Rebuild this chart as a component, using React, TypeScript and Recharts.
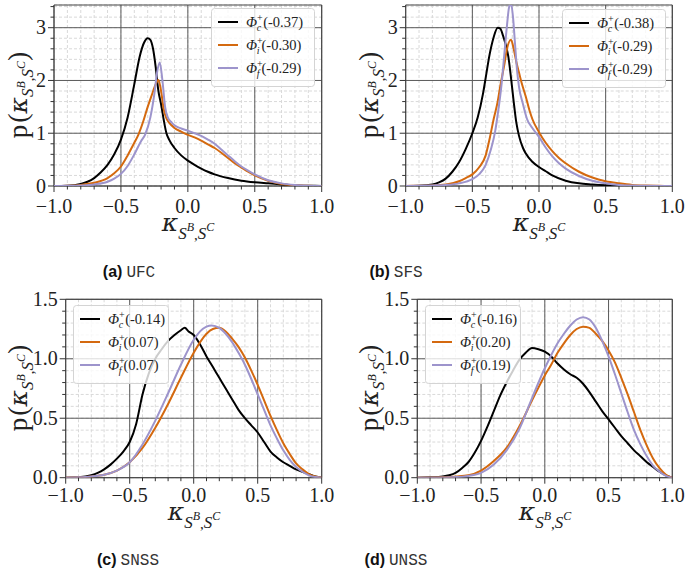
import React from 'react'
import { LineChart, Line, XAxis, YAxis, CartesianGrid, ReferenceArea, Legend } from 'recharts'

// ticks
const xMajor = [-1, -0.5, 0, 0.5, 1]
const xMinor = [-1, -0.9, -0.8, -0.7, -0.6, -0.5, -0.4, -0.3, -0.2, -0.1, 0, 0.1, 0.2, 0.3, 0.4, 0.5, 0.6, 0.7, 0.8, 0.9, 1]
const yMajorTop = [0, 1, 2, 3]
const yMinorTop = [0, 0.2, 0.4, 0.6, 0.8, 1, 1.2, 1.4, 1.6, 1.8, 2, 2.2, 2.4, 2.6, 2.8, 3, 3.2, 3.4]
const yMajorBottom = [0, 0.5, 1, 1.5]
const yMinorBottom = [0, 0.1, 0.2, 0.3, 0.4, 0.5, 0.6, 0.7, 0.8, 0.9, 1, 1.1, 1.2, 1.3, 1.4, 1.5]

const BLACK = '#000000'
const ORANGE = '#d4690f'
const PURPLE = '#9d94cc'

// (a) UFC
const ufcC: [number, number][] = [[-1, 0], [-0.9, 0.005], [-0.8, 0.04], [-0.75, 0.08], [-0.7, 0.15], [-0.65, 0.26], [-0.6, 0.4], [-0.55, 0.6], [-0.5, 0.88], [-0.45, 1.3], [-0.4, 1.93], [-0.36, 2.45], [-0.33, 2.7], [-0.3, 2.8], [-0.28, 2.77], [-0.26, 2.6], [-0.24, 2.25], [-0.22, 1.8], [-0.2, 1.55], [-0.18, 1.25], [-0.16, 1.0], [-0.14, 0.88], [-0.1, 0.72], [-0.05, 0.58], [0, 0.48], [0.05, 0.4], [0.1, 0.33], [0.15, 0.27], [0.2, 0.22], [0.3, 0.15], [0.4, 0.1], [0.5, 0.07], [0.6, 0.05], [0.7, 0.03], [0.8, 0.01], [0.9, 0.005], [1, 0]]
const ufcI: [number, number][] = [[-1, 0], [-0.9, 0.005], [-0.8, 0.02], [-0.7, 0.06], [-0.6, 0.15], [-0.55, 0.24], [-0.5, 0.37], [-0.45, 0.58], [-0.4, 0.82], [-0.37, 0.97], [-0.33, 1.25], [-0.3, 1.5], [-0.27, 1.72], [-0.24, 1.93], [-0.22, 2.01], [-0.2, 1.8], [-0.18, 1.45], [-0.16, 1.28], [-0.14, 1.2], [-0.1, 1.1], [-0.05, 1.03], [0, 0.97], [0.05, 0.92], [0.1, 0.86], [0.15, 0.79], [0.2, 0.72], [0.25, 0.63], [0.3, 0.53], [0.35, 0.43], [0.4, 0.35], [0.45, 0.27], [0.5, 0.2], [0.6, 0.1], [0.7, 0.04], [0.8, 0.015], [0.9, 0.005], [1, 0]]
const ufcF: [number, number][] = [[-1, 0], [-0.9, 0.003], [-0.8, 0.01], [-0.7, 0.03], [-0.6, 0.08], [-0.55, 0.14], [-0.5, 0.23], [-0.45, 0.38], [-0.4, 0.6], [-0.35, 0.85], [-0.32, 0.97], [-0.28, 1.3], [-0.25, 1.75], [-0.23, 2.15], [-0.21, 2.34], [-0.19, 2.0], [-0.17, 1.5], [-0.15, 1.3], [-0.12, 1.2], [-0.1, 1.15], [-0.05, 1.09], [0, 1.05], [0.05, 1.0], [0.1, 0.95], [0.15, 0.88], [0.2, 0.8], [0.25, 0.69], [0.3, 0.58], [0.35, 0.47], [0.4, 0.37], [0.45, 0.29], [0.5, 0.22], [0.6, 0.11], [0.7, 0.05], [0.8, 0.02], [0.9, 0.005], [1, 0]]

// (b) SFS
const sfsC: [number, number][] = [[-1, 0], [-0.9, 0.005], [-0.8, 0.03], [-0.75, 0.07], [-0.7, 0.14], [-0.65, 0.27], [-0.6, 0.45], [-0.55, 0.7], [-0.5, 1.0], [-0.46, 1.3], [-0.42, 1.75], [-0.4, 2.05], [-0.37, 2.5], [-0.34, 2.82], [-0.31, 3.0], [-0.29, 2.98], [-0.27, 2.85], [-0.25, 2.68], [-0.23, 2.45], [-0.21, 2.05], [-0.19, 1.6], [-0.17, 1.2], [-0.15, 0.95], [-0.12, 0.72], [-0.1, 0.62], [-0.05, 0.46], [0, 0.36], [0.05, 0.28], [0.1, 0.2], [0.2, 0.1], [0.3, 0.05], [0.4, 0.03], [0.5, 0.015], [0.6, 0.005], [0.7, 0], [1, 0]]
const sfsI: [number, number][] = [[-1, 0], [-0.9, 0.005], [-0.8, 0.01], [-0.7, 0.03], [-0.6, 0.09], [-0.55, 0.15], [-0.5, 0.22], [-0.45, 0.35], [-0.4, 0.58], [-0.37, 0.9], [-0.34, 1.27], [-0.31, 1.6], [-0.29, 1.9], [-0.26, 2.3], [-0.24, 2.6], [-0.21, 2.77], [-0.19, 2.6], [-0.17, 2.35], [-0.15, 2.15], [-0.13, 1.95], [-0.1, 1.7], [-0.07, 1.42], [-0.05, 1.27], [0, 1.02], [0.05, 0.82], [0.1, 0.66], [0.15, 0.53], [0.2, 0.43], [0.3, 0.27], [0.4, 0.16], [0.5, 0.09], [0.6, 0.05], [0.7, 0.02], [0.8, 0.008], [0.9, 0.003], [1, 0]]
const sfsF: [number, number][] = [[-1, 0], [-0.9, 0.003], [-0.8, 0.01], [-0.7, 0.02], [-0.6, 0.05], [-0.5, 0.13], [-0.45, 0.22], [-0.4, 0.4], [-0.36, 0.7], [-0.33, 1.02], [-0.31, 1.35], [-0.28, 1.95], [-0.26, 2.5], [-0.24, 3.05], [-0.225, 3.38], [-0.21, 3.46], [-0.195, 3.2], [-0.18, 2.7], [-0.165, 2.2], [-0.15, 1.88], [-0.12, 1.55], [-0.09, 1.27], [-0.05, 1.1], [0, 0.93], [0.05, 0.73], [0.1, 0.56], [0.15, 0.43], [0.2, 0.33], [0.3, 0.19], [0.4, 0.1], [0.5, 0.05], [0.6, 0.02], [0.7, 0.008], [0.8, 0.003], [1, 0]]

// (c) SNSS
const snssC: [number, number][] = [[-1, 0], [-0.9, 0.003], [-0.8, 0.02], [-0.75, 0.04], [-0.7, 0.07], [-0.65, 0.11], [-0.6, 0.16], [-0.55, 0.22], [-0.5, 0.3], [-0.45, 0.45], [-0.4, 0.7], [-0.35, 0.88], [-0.3, 1.0], [-0.25, 1.08], [-0.2, 1.15], [-0.15, 1.2], [-0.1, 1.24], [-0.07, 1.26], [-0.04, 1.23], [0, 1.2], [0.05, 1.12], [0.1, 1.02], [0.15, 0.93], [0.2, 0.84], [0.25, 0.75], [0.3, 0.66], [0.35, 0.57], [0.4, 0.5], [0.45, 0.44], [0.5, 0.38], [0.55, 0.3], [0.6, 0.22], [0.65, 0.17], [0.7, 0.13], [0.75, 0.1], [0.8, 0.07], [0.85, 0.05], [0.9, 0.03], [0.95, 0.01], [1, 0]]
const snssI: [number, number][] = [[-1, 0], [-0.9, 0.003], [-0.8, 0.01], [-0.7, 0.025], [-0.6, 0.06], [-0.5, 0.13], [-0.4, 0.25], [-0.3, 0.42], [-0.2, 0.62], [-0.1, 0.84], [0, 1.05], [0.05, 1.14], [0.1, 1.21], [0.15, 1.25], [0.2, 1.26], [0.25, 1.23], [0.3, 1.17], [0.35, 1.1], [0.4, 1.01], [0.45, 0.9], [0.5, 0.78], [0.55, 0.65], [0.6, 0.52], [0.65, 0.4], [0.7, 0.29], [0.75, 0.2], [0.8, 0.12], [0.85, 0.07], [0.9, 0.03], [0.95, 0.01], [1, 0]]
const snssF: [number, number][] = [[-1, 0], [-0.9, 0.003], [-0.8, 0.01], [-0.7, 0.025], [-0.6, 0.06], [-0.5, 0.13], [-0.4, 0.28], [-0.3, 0.48], [-0.2, 0.71], [-0.1, 0.95], [0, 1.16], [0.05, 1.23], [0.1, 1.27], [0.14, 1.28], [0.2, 1.26], [0.25, 1.21], [0.3, 1.14], [0.35, 1.05], [0.4, 0.95], [0.45, 0.83], [0.5, 0.7], [0.55, 0.57], [0.6, 0.44], [0.65, 0.33], [0.7, 0.23], [0.75, 0.15], [0.8, 0.09], [0.85, 0.05], [0.9, 0.02], [0.95, 0.005], [1, 0]]

// (d) UNSS
const unssC: [number, number][] = [[-1, 0], [-0.9, 0.003], [-0.8, 0.01], [-0.75, 0.02], [-0.7, 0.04], [-0.65, 0.08], [-0.6, 0.13], [-0.55, 0.21], [-0.5, 0.31], [-0.45, 0.43], [-0.4, 0.56], [-0.35, 0.69], [-0.3, 0.8], [-0.25, 0.9], [-0.2, 0.99], [-0.15, 1.05], [-0.1, 1.09], [-0.05, 1.08], [0, 1.06], [0.05, 1.02], [0.1, 0.96], [0.15, 0.91], [0.2, 0.87], [0.25, 0.84], [0.3, 0.79], [0.35, 0.72], [0.4, 0.64], [0.45, 0.56], [0.5, 0.49], [0.55, 0.42], [0.6, 0.35], [0.65, 0.29], [0.7, 0.23], [0.75, 0.18], [0.8, 0.13], [0.85, 0.09], [0.9, 0.05], [0.95, 0.02], [1, 0]]
const unssI: [number, number][] = [[-1, 0], [-0.8, 0.003], [-0.7, 0.01], [-0.6, 0.02], [-0.5, 0.06], [-0.4, 0.14], [-0.3, 0.25], [-0.2, 0.43], [-0.1, 0.65], [0, 0.86], [0.05, 0.95], [0.1, 1.05], [0.15, 1.13], [0.2, 1.2], [0.25, 1.25], [0.3, 1.27], [0.35, 1.26], [0.4, 1.21], [0.45, 1.15], [0.5, 1.07], [0.55, 0.97], [0.6, 0.84], [0.65, 0.7], [0.7, 0.55], [0.75, 0.4], [0.8, 0.27], [0.85, 0.16], [0.9, 0.08], [0.95, 0.025], [1, 0]]
const unssF: [number, number][] = [[-1, 0], [-0.8, 0.002], [-0.7, 0.005], [-0.6, 0.015], [-0.5, 0.04], [-0.4, 0.11], [-0.3, 0.23], [-0.2, 0.41], [-0.1, 0.67], [0, 0.92], [0.05, 1.03], [0.1, 1.13], [0.15, 1.21], [0.2, 1.28], [0.25, 1.33], [0.3, 1.35], [0.35, 1.33], [0.4, 1.26], [0.45, 1.15], [0.5, 1.02], [0.55, 0.87], [0.6, 0.71], [0.65, 0.55], [0.7, 0.4], [0.75, 0.28], [0.8, 0.18], [0.85, 0.1], [0.9, 0.05], [0.95, 0.015], [1, 0]]

// legend labels: subscript + value in brackets
const legendSubs = ['c', 'i', 'f']
const ufcLabels = ['-0.37', '-0.30', '-0.29']
const sfsLabels = ['-0.38', '-0.29', '-0.29']
const snssLabels = ['-0.14', '0.07', '0.07']
const unssLabels = ['-0.16', '0.20', '0.19']

const SERIF = '"Liberation Serif", serif'
const MATH = '"DejaVu Serif", serif'
const toPts = (arr: [number, number][]) => arr.map(([x, y]) => ({ x, y }))
const fmtX = (v: number) => (v < 0 ? '\u2212' : '') + Math.abs(v).toFixed(1)

const XTick = (props: any) => {
  const { x, y, payload, labelDy } = props
  const major = xMajor.includes(payload.value)
  return (
    <g>
      <line x1={x} x2={x} y1={y} y2={y + (major ? 6 : 3.5)} stroke="#333" strokeWidth={1} />
      {major && (
        <text x={x} y={y + labelDy} textAnchor="middle" fontFamily={SERIF} fontSize={20} fill="#222">
          {fmtX(payload.value)}
        </text>
      )}
    </g>
  )
}

const YTick = (props: any) => {
  const { x, y, payload, majors, digits } = props
  const major = majors.includes(payload.value)
  return (
    <g>
      <line x1={x} x2={x - (major ? 6 : 3.5)} y1={y} y2={y} stroke="#333" strokeWidth={1} />
      {major && (
        <text x={x - 8} y={y + 6.5} textAnchor="end" fontFamily={SERIF} fontSize={20} fill="#222">
          {payload.value.toFixed(digits)}
        </text>
      )}
    </g>
  )
}

const LegendBox = ({ w, labels }: { w: number; labels: string[] }) => {
  const colors = [BLACK, ORANGE, PURPLE]
  return (
    <svg width={w} height={79} style={{ display: 'block' }}>
      <rect x={0.5} y={0.5} width={w - 1} height={78} rx={3} fill="rgba(255,255,255,0.8)" stroke="#d4d4d4" />
      {labels.map((lab, i) => {
        const cy = 14 + i * 23
        return (
          <g key={i}>
            <line x1={7} x2={27} y1={cy} y2={cy} stroke={colors[i]} strokeWidth={2} />
            <text x={35} y={cy + 5} fontFamily={SERIF} fontSize={14.5} fill="#222">
              <tspan fontStyle="italic">Φ</tspan>
              <tspan dy={-6} fontSize={10}>+</tspan>
              <tspan dx={-6} dy={10} fontSize={10} fontStyle="italic">{legendSubs[i]}</tspan>
              <tspan dx={2} dy={-4}>({lab})</tspan>
            </text>
          </g>
        )
      })}
    </svg>
  )
}

type PanelProps = {
  left: number
  top: number
  width: number
  height: number
  margin: { top: number; right: number; bottom: number; left: number }
  yMax: number
  yMajor: number[]
  yMinor: number[]
  digits: number
  labelDy: number
  series: [number, number][][]
  labels: string[]
  legendLeft: number
  legendTop: number
  legendW: number
}

const Panel = (p: PanelProps) => {
  const colors = [BLACK, ORANGE, PURPLE]
  return (
    <div style={{ position: 'absolute', left: p.left, top: p.top }}>
      <LineChart width={p.width} height={p.height} margin={p.margin}>
        <CartesianGrid stroke="#d9d9d9" strokeDasharray="3 2" />
        <CartesianGrid stroke="#5a5a5a" verticalValues={xMajor} horizontalValues={p.yMajor} />
        <XAxis
          dataKey="x"
          type="number"
          domain={[-1, 1]}
          ticks={xMinor}
          interval={0}
          height={1}
          tickSize={0}
          tickMargin={0}
          axisLine={false}
          tickLine={false}
          allowDataOverflow
          tick={<XTick labelDy={p.labelDy} />}
        />
        <YAxis
          type="number"
          domain={[0, p.yMax]}
          ticks={p.yMinor}
          interval={0}
          width={1}
          tickSize={0}
          tickMargin={0}
          axisLine={false}
          tickLine={false}
          allowDataOverflow
          tick={<YTick majors={p.yMajor} digits={p.digits} />}
        />
        {p.series.map((s, i) => (
          <Line
            key={i}
            data={toPts(s)}
            dataKey="y"
            type="monotone"
            stroke={colors[i]}
            strokeWidth={2}
            dot={false}
            isAnimationActive={false}
          />
        ))}
        <ReferenceArea x1={-1} x2={1} y1={0} y2={p.yMax} fill="none" stroke="#444" strokeWidth={1} />
        <Legend
          layout="vertical"
          align="center"
          verticalAlign="middle"
          wrapperStyle={{ left: p.legendLeft, top: p.legendTop, width: p.legendW, height: 79 }}
          content={() => <LegendBox w={p.legendW} labels={p.labels} />}
        />
      </LineChart>
    </div>
  )
}

const XTitle = ({ cx, y }: { cx: number; y: number }) => (
  <text x={cx} y={y} textAnchor="middle" fontFamily={SERIF} fill="#222">
    <tspan fontSize={25} fontStyle="italic" fontFamily={MATH}>κ</tspan>
    <tspan fontSize={17} fontStyle="italic" dy={8}>S</tspan>
    <tspan fontSize={12} fontStyle="italic" dy={-8}>B</tspan>
    <tspan fontSize={15} dy={9}>,</tspan>
    <tspan fontSize={17} fontStyle="italic" dy={-1}>S</tspan>
    <tspan fontSize={12} fontStyle="italic" dy={-8}>C</tspan>
  </text>
)

const YTitle = ({ x, cy }: { x: number; cy: number }) => (
  <text transform={`translate(${x},${cy}) rotate(-90)`} textAnchor="middle" fontFamily={SERIF} fill="#222">
    <tspan fontSize={27}>p</tspan>
    <tspan fontSize={28} dx={2}>(</tspan>
    <tspan fontSize={25} fontStyle="italic" fontFamily={MATH}>κ</tspan>
    <tspan fontSize={17} fontStyle="italic" dy={6}>S</tspan>
    <tspan fontSize={12} fontStyle="italic" dy={-8}>B</tspan>
    <tspan fontSize={15} dy={9}>,</tspan>
    <tspan fontSize={17} fontStyle="italic" dy={-1}>S</tspan>
    <tspan fontSize={12} fontStyle="italic" dy={-8}>C</tspan>
    <tspan fontSize={28} dy={2}>)</tspan>
  </text>
)

const Caption = ({ cx, y, tag, name }: { cx: number; y: number; tag: string; name: string }) => (
  <text x={cx} y={y} textAnchor="middle" fill="#111">
    <tspan fontFamily='"Liberation Sans", Arial, sans-serif' fontWeight="bold" fontSize={16}>({tag})</tspan>
    <tspan fontFamily='"Liberation Mono", monospace' fontSize={16} fill="#333" dx={4}>{name}</tspan>
  </text>
)

export default function App() {
  const topMargin = { top: 5, bottom: 63 }
  const botMargin = { top: 14.3, bottom: 56.3 }
  return (
    <div style={{ position: 'absolute', left: 0, top: 0, width: 685, height: 572, background: '#fff', overflow: 'hidden' }}>
      <Panel
        left={0} top={0} width={340} height={250}
        margin={{ ...topMargin, left: 53, right: 18.3 }}
        yMax={3.43} yMajor={yMajorTop} yMinor={yMinorTop} digits={0} labelDy={27}
        series={[ufcC, ufcI, ufcF]} labels={ufcLabels}
        legendLeft={211} legendTop={8} legendW={104}
      />
      <Panel
        left={340} top={0} width={345} height={250}
        margin={{ ...topMargin, left: 64.7, right: 12.7 }}
        yMax={3.43} yMajor={yMajorTop} yMinor={yMinorTop} digits={0} labelDy={27}
        series={[sfsC, sfsI, sfsF]} labels={sfsLabels}
        legendLeft={222} legendTop={9} legendW={104}
      />
      <Panel
        left={0} top={285} width={340} height={250}
        margin={{ ...botMargin, left: 64.7, right: 18.3 }}
        yMax={1.5} yMajor={yMajorBottom} yMinor={yMinorBottom} digits={1} labelDy={24}
        series={[snssC, snssI, snssF]} labels={snssLabels}
        legendLeft={73} legendTop={20} legendW={96}
      />
      <Panel
        left={340} top={285} width={345} height={250}
        margin={{ ...botMargin, left: 76.3, right: 12.7 }}
        yMax={1.5} yMajor={yMajorBottom} yMinor={yMinorBottom} digits={1} labelDy={24}
        series={[unssC, unssI, unssF]} labels={unssLabels}
        legendLeft={85} legendTop={20} legendW={96}
      />
      <svg width={685} height={572} style={{ position: 'absolute', left: 0, top: 0, pointerEvents: 'none' }}>
        <XTitle cx={188} y={231} />
        <XTitle cx={539} y={231} />
        <XTitle cx={194} y={520} />
        <XTitle cx={545} y={520} />
        <YTitle x={27} cy={95} />
        <YTitle x={378} cy={95} />
        <YTitle x={27} cy={388} />
        <YTitle x={378} cy={388} />
        <Caption cx={129} y={277} tag="a" name="UFC" />
        <Caption cx={396} y={277} tag="b" name="SFS" />
        <Caption cx={128} y={565} tag="c" name="SNSS" />
        <Caption cx={396} y={565} tag="d" name="UNSS" />
      </svg>
    </div>
  )
}
